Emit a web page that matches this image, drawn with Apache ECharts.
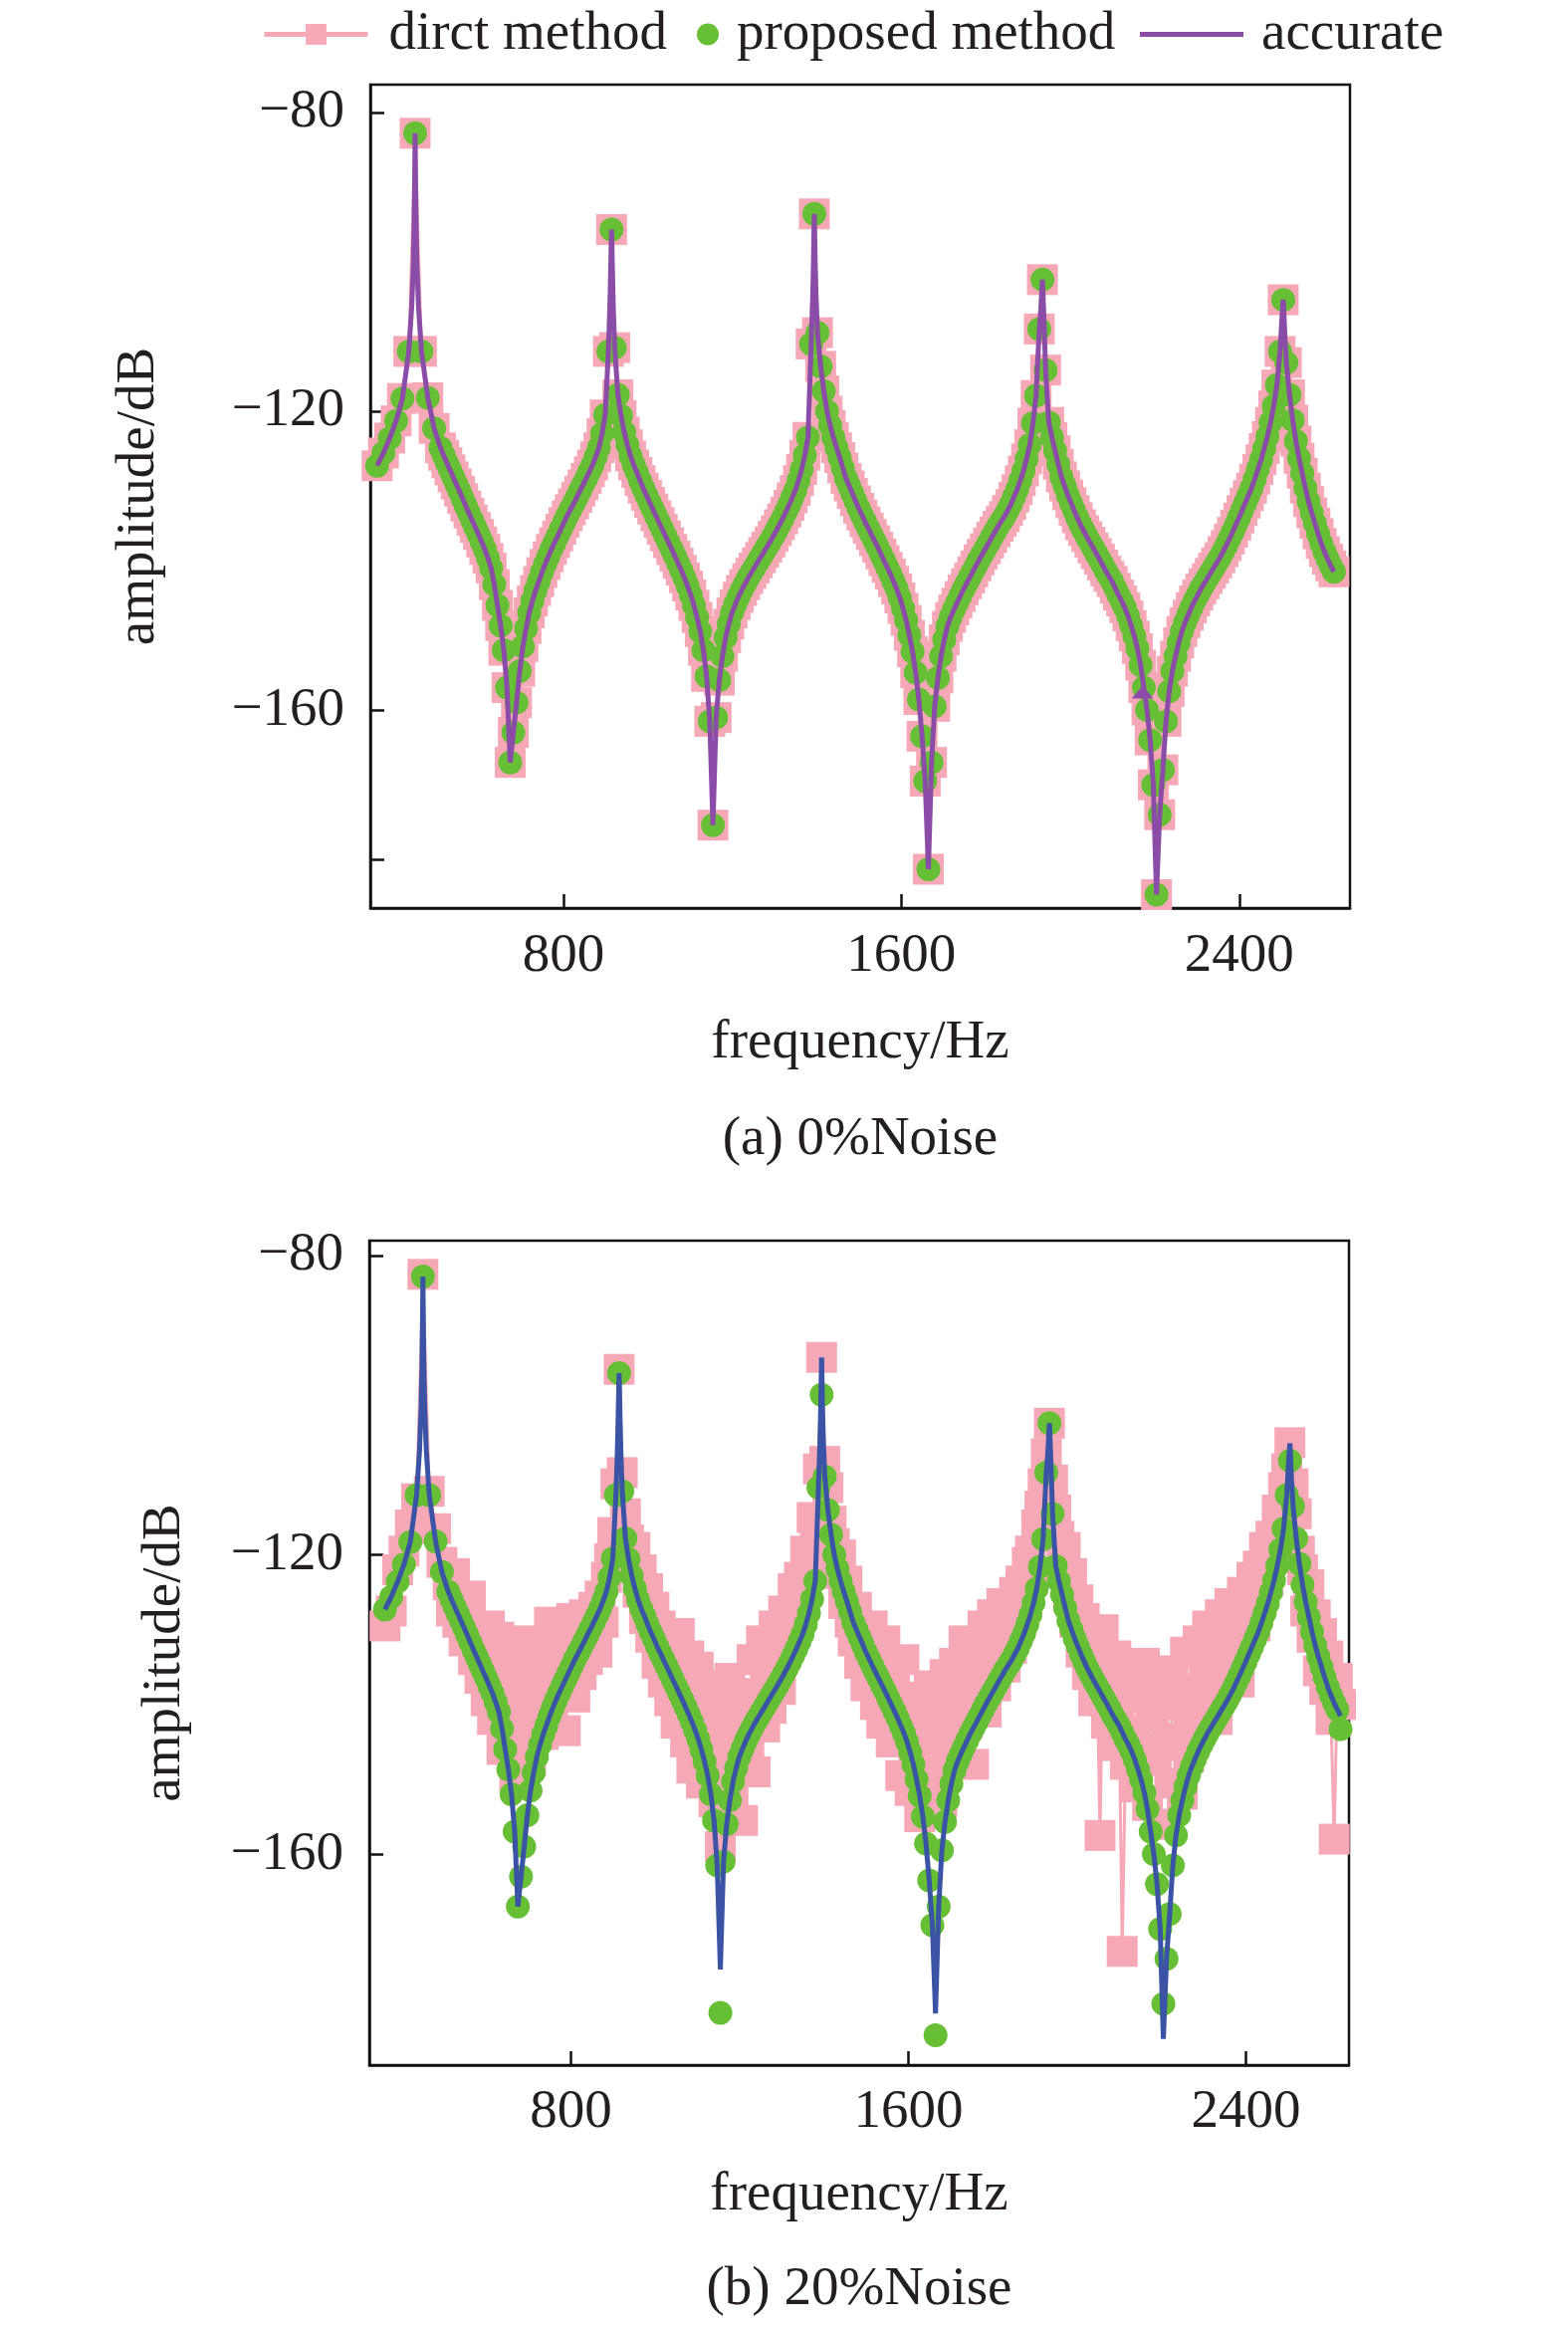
<!DOCTYPE html>
<html>
<head>
<meta charset="utf-8">
<script src="https://cdn.jsdelivr.net/npm/echarts@6/dist/echarts.min.js"></script>
<style>html,body{margin:0;padding:0;background:#fff}#c{width:1575px;height:2335px}</style>
</head>
<body>
<div id="c"></div>
<script>
// ---- sample frequencies (Hz) ----
const freq = [
359,374,389,404,419,434,449,464,479,494,
509,516.5,524,531.5,539,546.5,554,561.5,569,576.5,
584,591.5,599,606.5,614,621.5,629,636.5,644,651.5,
659,666.5,674,681.5,689,696.5,704,711.5,719,726.5,
734,741.5,749,756.5,764,771.5,779,786.5,794,801.5,
809,816.5,824,831.5,839,846.5,854,861.5,869,876.5,
884,891.5,899,906.5,914,921.5,929,936.5,944,951.5,
959,966.5,974,981.5,989,996.5,1004,1011.5,1019,1026.5,
1034,1041.5,1049,1056.5,1064,1071.5,1079,1086.5,1094,1101.5,
1109,1116.5,1124,1131.5,1139,1146.5,1154,1161.5,1169,1176.5,
1184,1191.5,1199,1206.5,1214,1221.5,1229,1236.5,1244,1251.5,
1259,1266.5,1274,1281.5,1289,1296.5,1304,1311.5,1319,1326.5,
1334,1341.5,1349,1356.5,1364,1371.5,1379,1386.5,1394,1401.5,
1409,1416.5,1424,1431.5,1439,1446.5,1454,1461.5,1469,1476.5,
1484,1491.5,1499,1506.5,1514,1521.5,1529,1536.5,1544,1551.5,
1559,1566.5,1574,1581.5,1589,1596.5,1604,1611.5,1619,1626.5,
1634,1641.5,1649,1656.5,1664,1671.5,1679,1686.5,1694,1701.5,
1709,1716.5,1724,1731.5,1739,1746.5,1754,1761.5,1769,1776.5,
1784,1791.5,1799,1806.5,1814,1821.5,1829,1836.5,1844,1851.5,
1859,1866.5,1874,1881.5,1889,1896.5,1904,1911.5,1919,1926.5,
1934,1941.5,1949,1956.5,1964,1971.5,1979,1986.5,1994,2001.5,
2009,2016.5,2024,2031.5,2039,2046.5,2054,2061.5,2069,2076.5,
2084,2091.5,2099,2106.5,2114,2121.5,2129,2136.5,2144,2151.5,
2159,2166.5,2174,2181.5,2189,2196.5,2204,2211.5,2219,2226.5,
2234,2241.5,2249,2256.5,2264,2271.5,2279,2286.5,2294,2301.5,
2309,2316.5,2324,2331.5,2339,2346.5,2354,2361.5,2369,2376.5,
2384,2391.5,2399,2406.5,2414,2421.5,2429,2436.5,2444,2451.5,
2459,2466.5,2474,2481.5,2489,2496.5,2504,2511.5,2519,2526.5,
2534,2541.5,2549,2556.5,2564,2571.5,2579,2586.5,2594,2601.5,
2609,2616.5,2624];

// ---- accurate FRF amplitude (dB) at the sample frequencies ----
const accurate = [
-127.3,-125.6,-123.6,-121.3,-118.3,-112.0,-82.8,-112.0,-118.2,-122.3,
-124.9,-125.9,-126.9,-127.85,-128.8,-129.75,-130.7,-131.7,-132.7,-133.65,
-134.6,-135.55,-136.5,-137.5,-138.5,-139.7,-141.0,-143.2,-146.0,-148.7,
-152.0,-157.0,-167.0,-163.0,-159.0,-154.8,-151.5,-149.1,-147.0,-145.4,
-144.0,-142.8,-141.6,-140.5,-139.5,-138.5,-137.6,-136.7,-135.8,-134.9,
-134.0,-133.2,-132.4,-131.55,-130.7,-129.85,-129.0,-128.1,-127.2,-126.1,
-124.9,-123.0,-120.5,-112.0,-95.7,-111.5,-117.8,-120.6,-122.8,-124.5,
-126.0,-127.2,-128.2,-129.3,-130.3,-131.25,-132.2,-133.1,-134.0,-134.9,
-135.8,-136.7,-137.6,-138.5,-139.4,-140.35,-141.3,-142.3,-143.4,-144.6,
-146.0,-147.6,-149.5,-152.0,-155.5,-161.5,-175.4,-161.0,-156.0,-152.8,
-150.3,-148.5,-147.0,-145.9,-144.9,-144.0,-143.2,-142.4,-141.7,-141.0,
-140.3,-139.6,-138.9,-138.2,-137.5,-136.75,-136.0,-135.2,-134.4,-133.5,
-132.6,-131.6,-130.6,-129.3,-127.8,-125.9,-123.5,-111.0,-93.6,-109.5,
-114.0,-117.3,-120.0,-121.9,-123.5,-124.9,-126.2,-127.6,-129.0,-130.0,
-131.0,-132.0,-133.0,-133.9,-134.8,-135.65,-136.5,-137.35,-138.2,-139.1,
-140.0,-140.9,-141.8,-142.8,-143.8,-145.0,-146.4,-148.0,-150.0,-152.2,
-155.0,-158.6,-163.5,-169.5,-181.3,-167.0,-159.5,-155.7,-152.8,-150.6,
-148.8,-147.6,-146.6,-145.7,-144.8,-143.9,-143.1,-142.3,-141.5,-140.7,
-139.9,-139.15,-138.4,-137.65,-136.9,-136.15,-135.4,-134.75,-134.1,-133.3,
-132.5,-131.5,-130.5,-129.3,-128.0,-126.4,-124.5,-121.6,-117.9,-109.0,
-102.4,-114.5,-121.5,-123.5,-125.3,-127.1,-128.8,-130.0,-131.2,-132.25,
-133.3,-134.25,-135.2,-136.0,-136.8,-137.55,-138.3,-139.05,-139.8,-140.6,
-141.4,-142.1,-142.8,-143.7,-144.6,-145.4,-146.3,-147.4,-148.7,-150.1,
-151.8,-154.0,-157.0,-160.0,-164.0,-170.0,-184.7,-174.0,-168.0,-161.5,
-157.5,-154.8,-152.8,-151.0,-149.5,-148.3,-147.3,-146.3,-145.4,-144.6,
-143.8,-143.1,-142.4,-141.7,-141.0,-140.3,-139.6,-138.8,-138.0,-137.1,
-136.2,-135.25,-134.3,-133.3,-132.3,-131.3,-130.3,-129.1,-127.8,-126.5,
-125.0,-123.4,-121.5,-119.3,-116.5,-112.0,-105.1,-113.5,-117.8,-121.2,
-124.0,-126.3,-128.3,-130.3,-132.1,-133.6,-135.0,-136.4,-137.7,-138.8,
-139.8,-140.7,-141.5];

// extra points of the accurate curve right at the sharp resonance peaks [Hz, dB]
const accuratePeaks = [
[441,-106],[445,-100],[447,-94],[448,-89],[450,-89],[451,-94],[453,-100],[457,-106],
[910,-106],[912,-101],[913,-98],[915,-98],[916,-101],[918,-106],
[1390,-105],[1392,-100],[1393,-96.5],[1395,-96.5],[1396,-100],[1398,-104.5],
[1930,-106.5],[1932,-104.5],[1933,-103.4],[1935,-103.6],[1936,-105.3],[1938,-108.5],
[2500,-108.5],[2502,-106.5],[2503,-105.6],[2505,-106],[2506,-107.5],[2508,-110]];

// (a) 0% noise: both identified curves lie on the accurate one
const directA = accurate;
const proposedA = accurate;

// (b) 20% noise: proposed method differs from accurate only at these samples [Hz, dB]
const proposedBChanges = [[1154,-181.2],[1394,-98.6],[1664,-184.2],[2204,-180.0],[2504,-107.4],[2624,-143.3]];

// (b) 20% noise: direct method (dB) at the sample frequencies
const directB = [
-129.5,-127.5,-122.0,-119.5,-116.0,-112.5,-82.5,-111.5,-116.5,-121.0,
-124.0,-127.5,-122.5,-129.0,-126.0,-131.5,-128.0,-125.5,-134.0,-130.0,
-136.5,-132.0,-139.5,-129.5,-142.0,-135.5,-131.0,-146.0,-138.0,-143.0,
-134.0,-149.5,-140.5,-137.0,-145.0,-131.5,-147.5,-139.0,-142.5,-133.0,
-144.0,-136.5,-129.0,-141.0,-134.5,-138.0,-131.5,-143.5,-135.5,-128.5,
-139.0,-132.5,-136.0,-128.0,-134.0,-130.5,-127.0,-133.0,-125.5,-129.0,
-123.0,-120.5,-117.0,-110.5,-95.2,-109.0,-114.5,-118.0,-121.5,-119.0,
-125.0,-122.0,-128.5,-124.5,-131.0,-127.0,-134.5,-129.5,-137.0,-132.5,
-139.5,-134.0,-142.5,-130.5,-137.5,-145.0,-133.5,-148.5,-139.0,-135.0,
-150.5,-141.5,-146.0,-137.5,-153.0,-143.0,-159.0,-140.0,-148.5,-136.5,
-151.5,-144.5,-138.5,-155.5,-141.0,-146.5,-134.0,-149.0,-139.5,-131.5,
-143.0,-136.0,-140.5,-129.5,-134.5,-138.0,-127.5,-132.5,-129.0,-124.5,
-128.5,-123.0,-125.5,-119.5,-121.0,-115.0,-117.5,-108.5,-93.6,-107.5,
-111.0,-115.5,-118.5,-122.5,-120.0,-126.5,-123.5,-129.0,-131.5,-127.0,
-134.5,-130.0,-137.5,-132.0,-129.5,-140.0,-135.0,-142.5,-131.5,-138.0,
-145.0,-136.5,-141.0,-149.5,-134.0,-143.5,-151.5,-139.0,-146.5,-155.0,
-142.0,-148.5,-137.5,-151.0,-144.5,-140.0,-153.0,-136.0,-147.0,-141.5,
-134.5,-145.0,-139.0,-131.5,-142.5,-136.0,-148.0,-133.5,-138.5,-129.5,
-141.0,-134.5,-128.0,-137.5,-131.0,-126.5,-135.0,-129.0,-132.5,-125.0,
-128.5,-123.5,-126.0,-121.0,-119.5,-122.5,-116.0,-113.5,-110.5,-106.5,
-102.4,-110.0,-114.0,-117.5,-121.0,-119.0,-125.5,-122.5,-129.0,-126.0,
-133.0,-128.5,-136.0,-131.5,-139.5,-134.5,-157.5,-130.0,-142.5,-137.0,
-145.5,-133.5,-140.0,-173.0,-148.0,-136.0,-143.5,-151.0,-139.0,-146.5,
-134.5,-153.5,-142.0,-147.5,-137.0,-156.0,-144.5,-139.5,-150.5,-135.5,
-145.5,-140.0,-152.0,-133.0,-147.0,-138.0,-143.5,-131.5,-140.5,-135.0,
-129.5,-138.5,-133.0,-142.0,-128.0,-136.5,-131.0,-126.5,-134.0,-129.0,
-137.0,-125.0,-131.5,-127.5,-123.0,-129.5,-121.5,-126.0,-119.0,-123.5,
-117.5,-120.0,-114.0,-116.5,-111.0,-108.5,-105.0,-110.5,-114.5,-119.5,
-122.0,-127.5,-124.0,-131.0,-128.0,-135.5,-130.5,-138.0,-133.5,-142.0,
-158.0,-136.5,-140.0];

// tick values
const xTicks = [800, 1600, 2400];
const yLabelsA = [-160, -120, -80];
const yTicksA = [-180, -160, -120, -80];
const yLabelsB = [-160, -120, -80];
const arrowA = [2171, -157.6];

// ---- build options ----
const FONT = 'Liberation Serif';
const TXT = '#231f20';
const PINK = '#f6a8b7', GREEN = '#66bf35', PURPLE = '#8b4ca8', BLUE = '#3a53a4';

const pairs = (xs, ys) => xs.map((x, i) => [x, ys[i]]);
const accLine = pairs(freq, accurate).concat(accuratePeaks).sort((a, b) => a[0] - b[0]);
const changeMap = new Map(proposedBChanges);
const proposedBData = freq.map((f, i) => [f, changeMap.has(f) ? changeMap.get(f) : accurate[i]]);
const minus = v => (v < 0 ? '\u2212' : '') + Math.abs(v);

function xAx(gi, min, max, margin, gap) {
  return {
    type: 'value', gridIndex: gi, min: min, max: max,
    axisLine: {show: true, lineStyle: {color: '#111', width: 2.5}},
    axisTick: {show: true, inside: true, length: 14, customValues: xTicks, lineStyle: {color: '#111', width: 2.5}},
    axisLabel: {customValues: xTicks, margin: margin, fontSize: 55, fontFamily: FONT, color: TXT, formatter: v => String(v)},
    splitLine: {show: false},
    name: 'frequency/Hz', nameLocation: 'middle', nameGap: gap,
    nameTextStyle: {fontSize: 55, fontFamily: FONT, color: TXT}
  };
}
function yAx(gi, min, max, labels, ticks, gap) {
  return {
    type: 'value', gridIndex: gi, min: min, max: max,
    axisLine: {show: true, lineStyle: {color: '#111', width: 2.5}},
    axisTick: {show: true, inside: true, length: 14, customValues: ticks, lineStyle: {color: '#111', width: 2.5}},
    axisLabel: {customValues: labels, margin: 26, fontSize: 55, fontFamily: FONT, color: TXT, formatter: minus},
    splitLine: {show: false},
    name: 'amplitude/dB', nameLocation: 'middle', nameGap: gap, nameRotate: 90,
    nameTextStyle: {fontSize: 55, fontFamily: FONT, color: TXT}
  };
}
const legText = pad => ({fontSize: 55, fontFamily: FONT, color: TXT, padding: [0, 0, 0, pad]});

const option = {
  animation: false,
  backgroundColor: '#fff',
  legend: [
    {data: [{name: 'dirct method'}], left: 258, top: 2, itemWidth: 104, itemHeight: 26, selectedMode: false,
     lineStyle: {width: 5}, textStyle: legText(16)},
    {data: [{name: 'proposed method', icon: 'circle'}], left: 695, top: 2, itemWidth: 22, itemHeight: 22, selectedMode: false, textStyle: legText(13)},
    {data: [{name: 'accurate', icon: 'rect'}], left: 1140, top: 2, itemWidth: 104, itemHeight: 5, selectedMode: false, textStyle: legText(13)}
  ],
  grid: [
    {left: 372, top: 85, width: 984, height: 827, show: true, borderColor: '#111', borderWidth: 2.5, backgroundColor: 'transparent'},
    {left: 371, top: 1246, width: 984, height: 828, show: true, borderColor: '#111', borderWidth: 2.5, backgroundColor: 'transparent'}
  ],
  xAxis: [xAx(0, 343, 2662, 21, 108), xAx(1, 322, 2644, 20, 103)],
  yAxis: [yAx(0, -186.5, -76.3, yLabelsA, yTicksA, 205), yAx(1, -188.2, -78, yLabelsB, yLabelsB, 178)],
  graphic: [
    {type: 'text', x: 864, y: 1145, style: {text: '(a) 0%Noise', fontSize: 55, fontFamily: FONT, fill: TXT, textAlign: 'center', textVerticalAlign: 'middle'}},
    {type: 'text', x: 863, y: 2300, style: {text: '(b) 20%Noise', fontSize: 55, fontFamily: FONT, fill: TXT, textAlign: 'center', textVerticalAlign: 'middle'}}
  ],
  series: [
    {name: 'dirct method', type: 'line', xAxisIndex: 0, yAxisIndex: 0, data: pairs(freq, directA),
     symbol: 'rect', symbolSize: 31, itemStyle: {color: PINK}, lineStyle: {color: PINK, width: 3}, z: 1, silent: true},
    {name: 'proposed method', type: 'scatter', xAxisIndex: 0, yAxisIndex: 0, data: pairs(freq, proposedA),
     symbol: 'circle', symbolSize: 24, itemStyle: {color: GREEN, opacity: 1}, z: 2, silent: true},
    {name: 'accurate', type: 'line', xAxisIndex: 0, yAxisIndex: 0, data: accLine, symbol: 'none',
     itemStyle: {color: PURPLE}, lineStyle: {color: PURPLE, width: 5}, z: 3, silent: true,
     markPoint: {symbol: 'triangle', symbolSize: [22, 13], silent: true, label: {show: false},
       itemStyle: {color: PURPLE}, data: [{coord: arrowA}]}},
    {name: 'dirct method', type: 'line', xAxisIndex: 1, yAxisIndex: 1, data: pairs(freq, directB),
     symbol: 'rect', symbolSize: 31, itemStyle: {color: PINK}, lineStyle: {color: PINK, width: 3}, z: 1, silent: true},
    {name: 'proposed method', type: 'scatter', xAxisIndex: 1, yAxisIndex: 1, data: proposedBData,
     symbol: 'circle', symbolSize: 24, itemStyle: {color: GREEN, opacity: 1}, z: 2, silent: true},
    {name: 'accurate', type: 'line', xAxisIndex: 1, yAxisIndex: 1, data: accLine, symbol: 'none',
     itemStyle: {color: BLUE}, lineStyle: {color: BLUE, width: 5}, z: 3, silent: true}
  ]
};

const chart = echarts.init(document.getElementById('c'), null, {renderer: 'canvas'});
chart.setOption(option);
</script>
</body>
</html>
